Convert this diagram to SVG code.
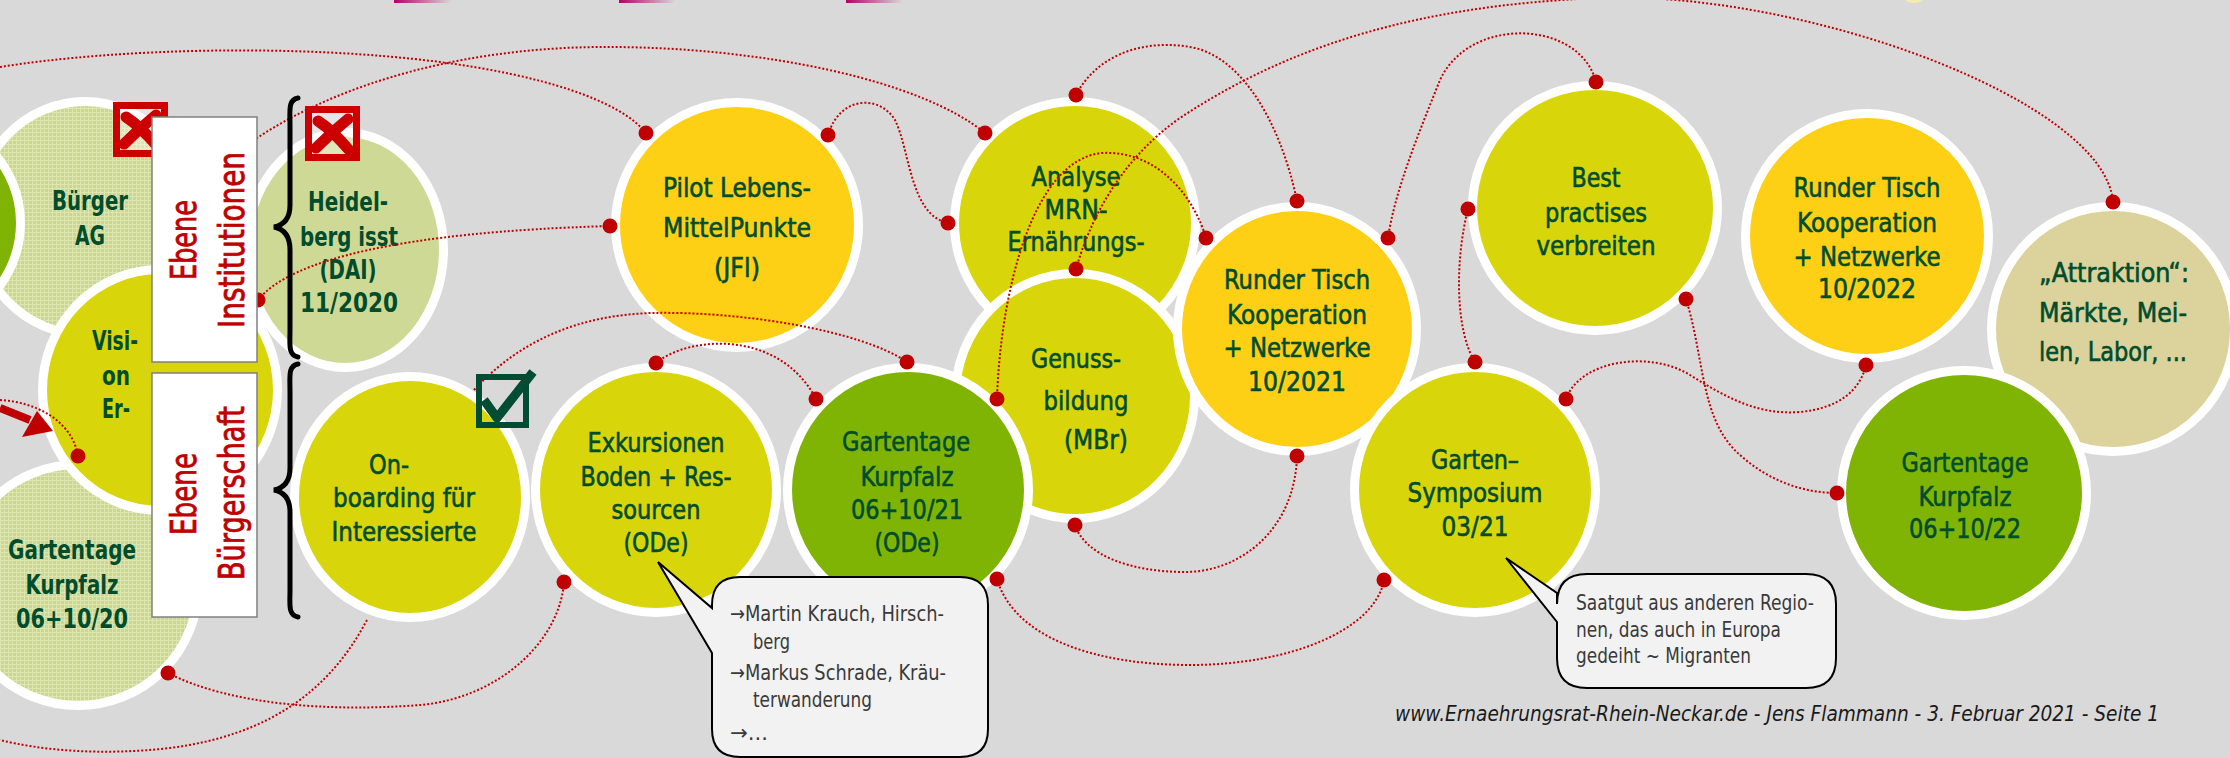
<svg xmlns="http://www.w3.org/2000/svg" width="2230" height="758" viewBox="0 0 2230 758">
<defs>
<style>
.n{stroke:#fff;stroke-width:9}
.yg{fill:#d8d50b}.gd{fill:#fed015}.gr{fill:#80b404}.lg{fill:#cfd996}.tn{fill:#dcd29b}
.t{font-family:"Liberation Sans Narrow","DejaVu Sans Condensed","Roboto Condensed",sans-serif;font-stretch:condensed;font-size:27px;fill:#004d2e;stroke:#004d2e;stroke-width:0.6;text-anchor:middle}
.tb{font-family:"Liberation Sans Narrow","DejaVu Sans Condensed",sans-serif;font-stretch:condensed;font-weight:bold;font-size:27px;fill:#004d2e;text-anchor:middle}
.lbl{font-family:"Liberation Sans Narrow","DejaVu Sans Condensed",sans-serif;font-stretch:condensed;font-size:36px;fill:#c00000;stroke:#c00000;stroke-width:0.8;text-anchor:middle}
.c{font-family:"Liberation Sans Narrow","DejaVu Sans Condensed",sans-serif;font-stretch:condensed;font-size:21px;fill:#3a3a3a}
.ft{font-family:"Liberation Sans Narrow","DejaVu Sans Condensed",sans-serif;font-stretch:condensed;font-style:italic;font-size:22px;fill:#1a1a1a}
.cn{fill:none;stroke:#c00000;stroke-width:2;stroke-dasharray:2 2}
.dot{fill:#c00000}
.box{fill:#fff;stroke:#808080;stroke-width:1.5}
.brace{fill:none;stroke:#000;stroke-width:5;stroke-linecap:round}
.xb{fill:#fff;fill-opacity:0.35;stroke:#cc0000;stroke-width:7}
.xm{fill:none;stroke:#cc0000;stroke-width:11;stroke-linecap:round}
.call{fill:#f2f2f2;stroke:#000;stroke-width:2}
</style>
<pattern id="mesh" width="4" height="4" patternUnits="userSpaceOnUse">
<rect width="4" height="4" fill="#cbd68f"/>
<path d="M0,0.5H4M0.5,0V4" stroke="#dde5b0" stroke-width="1"/>
</pattern>
<linearGradient id="mg" x1="0" x2="1" y1="0" y2="0">
<stop offset="0" stop-color="#b5006b"/>
<stop offset="1" stop-color="#d9d9d9"/>
</linearGradient>
</defs>
<rect width="2230" height="758" fill="#d9d9d9"/>
<rect x="394" y="0" width="58" height="3" fill="url(#mg)"/>
<rect x="619" y="0" width="57" height="3" fill="url(#mg)"/>
<rect x="846" y="0" width="57" height="3" fill="url(#mg)"/>
<ellipse cx="1914" cy="-1" rx="9" ry="4" fill="#f3ecb0"/>

<g id="node-buerger-ag">
<ellipse class="n" cx="85" cy="218" rx="110.5" ry="116.5" fill="url(#mesh)"/>
<text class="tb" x="90" y="210" textLength="76" lengthAdjust="spacingAndGlyphs">Bürger</text>
<text class="tb" x="90" y="245" textLength="30" lengthAdjust="spacingAndGlyphs">AG</text>
</g>
<g id="node-left-green">
<ellipse class="n gr" cx="-85" cy="223" rx="105.5" ry="105.5"/>
</g>
<g id="node-gartentage-20">
<ellipse class="n" cx="78" cy="585" rx="120.5" ry="120.5" fill="url(#mesh)"/>
<text class="tb" x="72" y="559" textLength="128" lengthAdjust="spacingAndGlyphs">Gartentage</text>
<text class="tb" x="72" y="594" textLength="93" lengthAdjust="spacingAndGlyphs">Kurpfalz</text>
<text class="tb" x="72" y="628" textLength="112" lengthAdjust="spacingAndGlyphs">06+10/20</text>
</g>
<g id="node-heidelberg">
<ellipse class="n lg" cx="345" cy="250" rx="98.5" ry="117.5"/>
<text class="tb" x="348" y="211" textLength="80" lengthAdjust="spacingAndGlyphs">Heidel-</text>
<text class="tb" x="349" y="246" textLength="98" lengthAdjust="spacingAndGlyphs">berg isst</text>
<text class="tb" x="348" y="279" textLength="57" lengthAdjust="spacingAndGlyphs">(DAI)</text>
<text class="tb" x="349" y="312" textLength="98" lengthAdjust="spacingAndGlyphs">11/2020</text>
</g>
<g id="node-vision">
<ellipse class="n yg" cx="160" cy="390" rx="117.5" ry="120.5"/>
<text class="tb" x="115" y="350" textLength="46" lengthAdjust="spacingAndGlyphs">Visi-</text>
<text class="tb" x="116" y="385" textLength="28" lengthAdjust="spacingAndGlyphs">on</text>
<text class="tb" x="116" y="418" textLength="28" lengthAdjust="spacingAndGlyphs">Er-</text>
</g>
<g id="node-onboarding">
<ellipse class="n yg" cx="410" cy="497" rx="115.5" ry="120.5"/>
<text class="t" x="389" y="474" textLength="40" lengthAdjust="spacingAndGlyphs">On-</text>
<text class="t" x="404" y="507" textLength="142" lengthAdjust="spacingAndGlyphs">boarding für</text>
<text class="t" x="404" y="541" textLength="145" lengthAdjust="spacingAndGlyphs">Interessierte</text>
</g>
<g id="node-exkursionen">
<ellipse class="n yg" cx="656" cy="490" rx="120.5" ry="122.5"/>
<text class="t" x="656" y="452" textLength="137" lengthAdjust="spacingAndGlyphs">Exkursionen</text>
<text class="t" x="656" y="486" textLength="151" lengthAdjust="spacingAndGlyphs">Boden + Res-</text>
<text class="t" x="656" y="519" textLength="89" lengthAdjust="spacingAndGlyphs">sourcen</text>
<text class="t" x="656" y="552" textLength="65" lengthAdjust="spacingAndGlyphs">(ODe)</text>
</g>
<g id="node-pilot">
<ellipse class="n gd" cx="737" cy="225" rx="121.5" ry="122.5"/>
<text class="t" x="737" y="197" textLength="148" lengthAdjust="spacingAndGlyphs">Pilot Lebens-</text>
<text class="t" x="737" y="237" textLength="148" lengthAdjust="spacingAndGlyphs">MittelPunkte</text>
<text class="t" x="737" y="277" textLength="46" lengthAdjust="spacingAndGlyphs">(JFl)</text>
</g>
<g id="node-analyse">
<ellipse class="n yg" cx="1075" cy="223" rx="120.5" ry="121.5"/>
<text class="t" x="1076" y="186" textLength="89" lengthAdjust="spacingAndGlyphs">Analyse</text>
<text class="t" x="1076" y="219" textLength="63" lengthAdjust="spacingAndGlyphs">MRN-</text>
<text class="t" x="1076" y="251" textLength="137" lengthAdjust="spacingAndGlyphs">Ernährungs-</text>
</g>
<g id="node-genuss">
<ellipse class="n yg" cx="1075" cy="396" rx="119.5" ry="122.5"/>
<text class="t" x="1076" y="368" textLength="90" lengthAdjust="spacingAndGlyphs">Genuss-</text>
<text class="t" x="1086" y="410" textLength="85" lengthAdjust="spacingAndGlyphs">bildung</text>
<text class="t" x="1096" y="449" textLength="64" lengthAdjust="spacingAndGlyphs">(MBr)</text>
</g>
<g id="node-gartentage-21">
<ellipse class="n gr" cx="908" cy="490" rx="120.5" ry="122.5"/>
<text class="t" x="906" y="451" textLength="128" lengthAdjust="spacingAndGlyphs">Gartentage</text>
<text class="t" x="907" y="486" textLength="93" lengthAdjust="spacingAndGlyphs">Kurpfalz</text>
<text class="t" x="907" y="519" textLength="112" lengthAdjust="spacingAndGlyphs">06+10/21</text>
<text class="t" x="907" y="552" textLength="65" lengthAdjust="spacingAndGlyphs">(ODe)</text>
</g>
<g id="node-runder-tisch-21">
<ellipse class="n gd" cx="1297" cy="329" rx="119.5" ry="122.5"/>
<text class="t" x="1297" y="289" textLength="146" lengthAdjust="spacingAndGlyphs">Runder Tisch</text>
<text class="t" x="1297" y="324" textLength="140" lengthAdjust="spacingAndGlyphs">Kooperation</text>
<text class="t" x="1297" y="357" textLength="147" lengthAdjust="spacingAndGlyphs">+ Netzwerke</text>
<text class="t" x="1297" y="391" textLength="98" lengthAdjust="spacingAndGlyphs">10/2021</text>
</g>
<g id="node-symposium">
<ellipse class="n yg" cx="1475" cy="490" rx="120.5" ry="122.5"/>
<text class="t" x="1475" y="469" textLength="88" lengthAdjust="spacingAndGlyphs">Garten–</text>
<text class="t" x="1475" y="502" textLength="135" lengthAdjust="spacingAndGlyphs">Symposium</text>
<text class="t" x="1475" y="536" textLength="67" lengthAdjust="spacingAndGlyphs">03/21</text>
</g>
<g id="node-best-practises">
<ellipse class="n yg" cx="1595" cy="208" rx="122.5" ry="122.5"/>
<text class="t" x="1596" y="187" textLength="49" lengthAdjust="spacingAndGlyphs">Best</text>
<text class="t" x="1596" y="222" textLength="102" lengthAdjust="spacingAndGlyphs">practises</text>
<text class="t" x="1596" y="255" textLength="119" lengthAdjust="spacingAndGlyphs">verbreiten</text>
</g>
<g id="node-runder-tisch-22">
<ellipse class="n gd" cx="1867" cy="236" rx="121.5" ry="122.5"/>
<text class="t" x="1867" y="197" textLength="147" lengthAdjust="spacingAndGlyphs">Runder Tisch</text>
<text class="t" x="1867" y="232" textLength="140" lengthAdjust="spacingAndGlyphs">Kooperation</text>
<text class="t" x="1867" y="266" textLength="147" lengthAdjust="spacingAndGlyphs">+ Netzwerke</text>
<text class="t" x="1867" y="298" textLength="98" lengthAdjust="spacingAndGlyphs">10/2022</text>
</g>
<g id="node-attraktion">
<ellipse class="n tn" cx="2113" cy="329" rx="121.5" ry="122.5"/>
<text class="t" x="2114" y="282" textLength="150" lengthAdjust="spacingAndGlyphs">„Attraktion“:</text>
<text class="t" x="2113" y="322" textLength="148" lengthAdjust="spacingAndGlyphs">Märkte, Mei-</text>
<text class="t" x="2113" y="361" textLength="148" lengthAdjust="spacingAndGlyphs">len, Labor, ...</text>
</g>
<g id="node-gartentage-22">
<ellipse class="n gr" cx="1964" cy="493" rx="122.5" ry="122.5"/>
<text class="t" x="1965" y="472" textLength="127" lengthAdjust="spacingAndGlyphs">Gartentage</text>
<text class="t" x="1965" y="506" textLength="93" lengthAdjust="spacingAndGlyphs">Kurpfalz</text>
<text class="t" x="1965" y="538" textLength="112" lengthAdjust="spacingAndGlyphs">06+10/22</text>
</g>

<g id="connectors">
<path class="cn" d="M0,67 C120,48 300,44 440,62 C540,75 620,100 646,133"/>
<path class="cn" d="M240,150 C320,90 450,48 600,47 C760,46 920,80 985,133"/>
<path class="cn" d="M828,135 C840,95 880,95 895,120 C910,150 910,215 948,223"/>
<path class="cn" d="M1076,95 C1100,50 1150,40 1190,47 C1240,55 1280,120 1297,201"/>
<path class="cn" d="M1076,269 C1090,220 1120,160 1180,118 C1290,45 1420,5 1600,-2 C1800,-10 2105,100 2113,202"/>
<path class="cn" d="M997,399 C1000,300 1030,160 1102,153 C1160,150 1195,200 1206,238"/>
<path class="cn" d="M1596,82 C1580,20 1470,15 1440,80 C1420,130 1395,190 1388,238"/>
<path class="cn" d="M1468,209 C1455,260 1455,330 1475,362"/>
<path class="cn" d="M1686,299 C1705,360 1700,420 1740,455 C1770,482 1805,493 1837,493"/>
<path class="cn" d="M1566,399 C1580,360 1650,350 1690,375 C1730,400 1760,415 1800,412 C1840,408 1860,390 1866,365"/>
<path class="cn" d="M1297,456 C1295,530 1240,572 1185,572 C1130,572 1085,555 1075,525"/>
<path class="cn" d="M997,579 C1015,640 1100,665 1190,665 C1290,665 1375,630 1384,580"/>
<path class="cn" d="M168,673 C230,705 330,712 420,705 C500,698 560,640 564,582"/>
<path class="cn" d="M367,620 C330,690 270,735 170,748 C100,756 40,750 0,740"/>
<path class="cn" d="M0,400 C35,402 72,420 78,456"/>
<path class="cn" d="M474,390 C520,340 580,315 652,313 C740,311 860,330 907,362"/>
<path class="cn" d="M656,363 C690,335 780,330 816,399"/>
<path class="cn" d="M258,300 C290,260 400,232 610,226"/>
<path d="M0,408 L30,420" stroke="#c00000" stroke-width="8" fill="none"/>
<path d="M53,431 L22,437 L37,411 Z" fill="#c00000"/>
<g class="dot">
<circle cx="78" cy="456" r="7.5"/>
<circle cx="168" cy="673" r="7.5"/>
<circle cx="258" cy="300" r="7.5"/>
<circle cx="610" cy="226" r="7.5"/>
<circle cx="646" cy="133" r="7.5"/>
<circle cx="828" cy="135" r="7.5"/>
<circle cx="948" cy="223" r="7.5"/>
<circle cx="985" cy="133" r="7.5"/>
<circle cx="1076" cy="95" r="7.5"/>
<circle cx="1076" cy="269" r="7.5"/>
<circle cx="1206" cy="238" r="7.5"/>
<circle cx="1297" cy="201" r="7.5"/>
<circle cx="1388" cy="238" r="7.5"/>
<circle cx="1297" cy="456" r="7.5"/>
<circle cx="1075" cy="525" r="7.5"/>
<circle cx="997" cy="399" r="7.5"/>
<circle cx="816" cy="399" r="7.5"/>
<circle cx="907" cy="362" r="7.5"/>
<circle cx="997" cy="579" r="7.5"/>
<circle cx="656" cy="363" r="7.5"/>
<circle cx="564" cy="582" r="7.5"/>
<circle cx="1475" cy="362" r="7.5"/>
<circle cx="1566" cy="399" r="7.5"/>
<circle cx="1384" cy="580" r="7.5"/>
<circle cx="1596" cy="82" r="7.5"/>
<circle cx="1468" cy="209" r="7.5"/>
<circle cx="1686" cy="299" r="7.5"/>
<circle cx="1866" cy="365" r="7.5"/>
<circle cx="1837" cy="493" r="7.5"/>
<circle cx="2113" cy="202" r="7.5"/>
</g>
</g>

<g id="mark-x1">
<rect class="xb" x="116.5" y="105.5" width="48" height="48"/>
<path class="xm" d="M126,117 Q140,126 157,146 M156,115 Q140,128 124,144"/>
</g>
<g id="mark-x2">
<rect class="xb" x="308.5" y="109.5" width="48" height="48"/>
<path class="xm" d="M318,121 Q332,130 349,150 M348,119 Q332,132 316,148"/>
</g>
<g id="mark-check">
<rect x="479" y="377" width="47" height="48" fill="none" stroke="#004d33" stroke-width="6"/>
<path d="M484,400 L497,418 L533,372" fill="none" stroke="#004d33" stroke-width="9" stroke-linejoin="round"/>
</g>

<g id="label-institutionen">
<rect class="box" x="152" y="117" width="105" height="245"/>
<text class="lbl" transform="translate(196,240) rotate(-90)" textLength="80" lengthAdjust="spacingAndGlyphs">Ebene</text>
<text class="lbl" transform="translate(244,240) rotate(-90)" textLength="176" lengthAdjust="spacingAndGlyphs">Institutionen</text>
</g>
<g id="label-buergerschaft">
<rect class="box" x="152" y="373" width="105" height="244"/>
<text class="lbl" transform="translate(196,494) rotate(-90)" textLength="82" lengthAdjust="spacingAndGlyphs">Ebene</text>
<text class="lbl" transform="translate(244,493) rotate(-90)" textLength="174" lengthAdjust="spacingAndGlyphs">Bürgerschaft</text>
</g>
<g id="braces">
<path class="brace" d="M298,98 C288,100 290,110 290,125 L290,205 C290,218 284,225 274,227 C284,229 290,236 290,250 L290,330 C290,345 288,355 298,357"/>
<path class="brace" d="M298,364 C288,366 290,376 290,391 L290,468 C290,481 284,488 274,490 C284,492 290,499 290,512 L290,590 C290,605 288,615 298,617"/>
</g>

<g id="callout-exkursionen">
<path class="call" d="M740,577 H960 Q988,577 988,605 V729 Q988,757 960,757 H740 Q712,757 712,729 V653 L658,562 L712,608 V605 Q712,577 740,577 Z"/>
<text class="c" x="730" y="621" textLength="214" lengthAdjust="spacingAndGlyphs">→Martin Krauch, Hirsch-</text>
<text class="c" x="753" y="649" textLength="37" lengthAdjust="spacingAndGlyphs">berg</text>
<text class="c" x="730" y="680" textLength="216" lengthAdjust="spacingAndGlyphs">→Markus Schrade, Kräu-</text>
<text class="c" x="753" y="707" textLength="119" lengthAdjust="spacingAndGlyphs">terwanderung</text>
<text class="c" x="730" y="740" textLength="38" lengthAdjust="spacingAndGlyphs">→...</text>
</g>
<g id="callout-symposium">
<path class="call" d="M1587,574 H1806 Q1836,574 1836,604 V658 Q1836,688 1806,688 H1587 Q1557,688 1557,658 V622 L1506,558 L1557,593 V604 Q1557,574 1587,574 Z"/>
<text class="c" x="1576" y="610" textLength="238" lengthAdjust="spacingAndGlyphs">Saatgut aus anderen Regio-</text>
<text class="c" x="1576" y="637" textLength="205" lengthAdjust="spacingAndGlyphs">nen, das auch in Europa</text>
<text class="c" x="1576" y="663" textLength="175" lengthAdjust="spacingAndGlyphs">gedeiht ~ Migranten</text>
</g>
<text class="ft" x="1395" y="721" textLength="764" lengthAdjust="spacingAndGlyphs">www.Ernaehrungsrat-Rhein-Neckar.de - Jens Flammann - 3. Februar 2021 - Seite 1</text>
</svg>
